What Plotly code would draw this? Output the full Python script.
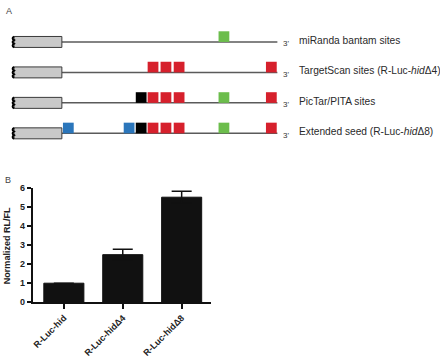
import plotly.graph_objects as go

# ---------------- Panel B data ----------------
categories = ["R-Luc-hid", "R-Luc-hidΔ4", "R-Luc-hidΔ8"]
rl_fl = [1.0, 2.5, 5.52]
rl_fl_err = [0.0, 0.28, 0.31]
y_ticks = [0, 1, 2, 3, 4, 5, 6]

# ---------------- Panel A data ----------------
row_labels = [
    "miRanda bantam sites",
    "TargetScan sites (R-Luc-<i>hid</i>Δ4)",
    "PicTar/PITA sites",
    "Extended seed (R-Luc-<i>hid</i>Δ8)",
]
# left edge of each predicted site along the 3'UTR (0 = stop codon, 100 = 3' end)
site_positions = [
    [72.7],
    [39.8, 45.8, 51.9, 94.7],
    [34.3, 39.8, 45.8, 51.9, 72.7, 94.7],
    [0.5, 28.7, 34.3, 39.8, 45.8, 51.9, 72.7, 94.7],
]
site_types = [
    ["g"],
    ["r", "r", "r", "r"],
    ["k", "r", "r", "r", "g", "r"],
    ["b", "b", "k", "r", "r", "r", "g", "r"],
]
utr_length = 100
cds_start = -22.2

site_colors = {"r": "#d6202c", "g": "#6cbd4c", "b": "#2b76bb", "k": "#000000"}
SITE_W = 5.0
SITE_H = 0.35
BOX_H = 0.18

fig = go.Figure()

# Panel B bars (no error bar drawn where the error is zero)
err_plot = [e if e > 0 else None for e in rl_fl_err]
fig.add_trace(go.Bar(
    x=categories, y=rl_fl,
    marker=dict(color="#111111", line=dict(color="#111111", width=1)),
    width=0.68,
    error_y=dict(type="data", array=err_plot, visible=True, color="#111111",
                 thickness=1.5, width=10),
    xaxis="x", yaxis="y", showlegend=False,
))

# dummy invisible trace to set up panel A axes
fig.add_trace(go.Scatter(x=[0], y=[0], mode="markers", marker=dict(opacity=0),
                         xaxis="x2", yaxis="y2", showlegend=False, hoverinfo="skip"))

shapes = []
annotations = []
for i, (label, poss, types) in enumerate(zip(row_labels, site_positions, site_types)):
    y = i
    # 3'UTR line
    shapes.append(dict(type="line", xref="x2", yref="y2", x0=0, x1=utr_length, y0=y, y1=y,
                       line=dict(color="#5a5a5a", width=1.5), layer="above"))
    # coding region box
    shapes.append(dict(type="rect", xref="x2", yref="y2", x0=cds_start, x1=0,
                       y0=y - BOX_H, y1=y + BOX_H,
                       fillcolor="#c9c9c9", line=dict(color="#3a3a3a", width=1), layer="above"))
    # squiggly left end
    xs = cds_start
    d = BOX_H * 2 / 3
    path = f"M {xs},{y - BOX_H}"
    for k in range(3):
        y0 = y - BOX_H + k * d
        path += f" Q {xs - 1.3},{y0 + d / 2} {xs},{y0 + d}"
    shapes.append(dict(type="path", xref="x2", yref="y2", path=path,
                       line=dict(color="#000000", width=2), layer="above"))
    # sites
    for p, t in zip(poss, types):
        shapes.append(dict(type="rect", xref="x2", yref="y2", x0=p, x1=p + SITE_W,
                           y0=y - SITE_H, y1=y,
                           fillcolor=site_colors[t], line=dict(width=0), layer="above"))
    annotations.append(dict(xref="x2", yref="y2", x=101.8, y=y + 0.06, text="3'",
                            showarrow=False, xanchor="left", yanchor="middle",
                            font=dict(family="Liberation Sans, Arial", size=8, color="#333")))
    annotations.append(dict(xref="x2", yref="y2", x=109.0, y=y - 0.05, text=label,
                            showarrow=False, xanchor="left", yanchor="middle",
                            font=dict(family="Liberation Sans, Arial", size=10.2, color="#2a2a2a")))

annotations.append(dict(xref="paper", yref="paper", x=3 / 440, y=1 - 6 / 360, text="A",
                        showarrow=False, xanchor="left", yanchor="middle",
                        font=dict(family="Liberation Sans, Arial", size=9, color="#444")))
annotations.append(dict(xref="paper", yref="paper", x=2 / 440, y=1 - 180 / 360, text="B",
                        showarrow=False, xanchor="left", yanchor="middle",
                        font=dict(family="Liberation Sans, Arial", size=9, color="#444")))
annotations.append(dict(xref="paper", yref="paper", x=6 / 440, y=1 - 247 / 360,
                        text="<b>Normalized RL/FL</b>", textangle=-90,
                        showarrow=False, xanchor="center", yanchor="middle",
                        font=dict(family="Liberation Sans, Arial", size=9, color="#222")))

fig.update_layout(
    width=440, height=360,
    margin=dict(l=0, r=0, t=0, b=0),
    paper_bgcolor="white", plot_bgcolor="rgba(0,0,0,0)",
    bargap=0.32,
    xaxis=dict(domain=[32 / 440, 210 / 440], range=[-0.525, 2.49],
               showline=True, linecolor="#111", linewidth=2,
               ticks="outside", ticklen=5, tickwidth=1.5, tickcolor="#111",
               tickangle=-45, showgrid=False, zeroline=False, anchor="y",
               tickfont=dict(family="Liberation Sans, Arial", size=9, color="#222", weight="bold")),
    yaxis=dict(domain=[(360 - 305.7) / 360, (360 - 188.3) / 360], range=[0, 6],
               tickvals=y_ticks, showline=True, linecolor="#111", linewidth=2,
               ticks="outside", ticklen=4, tickwidth=1.5, tickcolor="#111",
               showgrid=False, zeroline=False, anchor="x",
               tickfont=dict(family="Liberation Sans, Arial", size=9, color="#222", weight="bold")),
    xaxis2=dict(domain=[0, 1], range=[-28.24, 175.46], visible=False, anchor="y2"),
    yaxis2=dict(domain=[0, 1], range=[10.277, -1.213], visible=False, anchor="x2"),
    shapes=shapes,
    annotations=annotations,
)

fig.write_html("out.html")
